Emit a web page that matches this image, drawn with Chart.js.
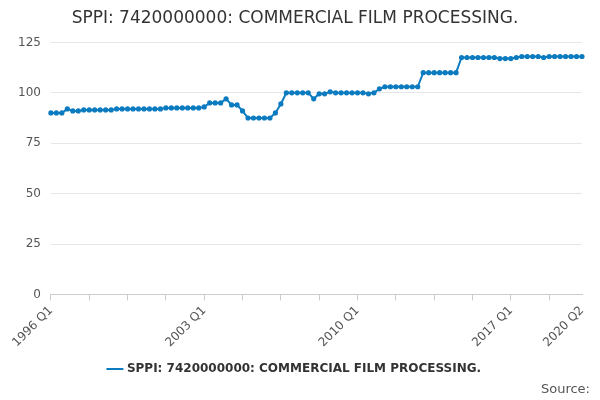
<!DOCTYPE html>
<html>
<head>
<meta charset="utf-8">
<script src="https://cdn.jsdelivr.net/npm/chart.js@4/dist/chart.umd.min.js"></script>
<style>
body { margin: 0; background: #fff; }
#wrap { width: 600px; height: 400px; position: relative; }
#source { position: absolute; right: 10px; bottom: 4px; font: 13px "DejaVu Sans", sans-serif; color: #555; }
</style>
</head>
<body>
<div id="wrap"><canvas id="myChart" width="600" height="400"></canvas><div id="source">Source:</div></div>
<script>
"use strict"

const seriesName = 'SPPI: 7420000000: COMMERCIAL FILM PROCESSING.';
const startYear = 1996;
const values = [
    90, 90, 90, 92, 91, 91, 91.5, 91.5, 91.5, 91.5, 91.5, 91.5, 92, 92,
    92, 92, 92, 92, 92, 92, 92, 92.5, 92.5, 92.5, 92.5, 92.5, 92.5, 92.5,
    93, 95, 95, 95, 97, 94, 94, 91, 87.5, 87.5, 87.5, 87.5, 87.5, 90,
    94.5, 100, 100, 100, 100, 100, 97, 99.5, 99.5, 100.5, 100, 100, 100, 100,
    100, 100, 99.5, 100, 102, 103, 103, 103, 103, 103, 103, 103, 110, 110,
    110, 110, 110, 110, 110, 117.5, 117.5, 117.5, 117.5, 117.5, 117.5, 117.5, 117, 117,
    117, 117.5, 118, 118, 118, 118, 117.5, 118, 118, 118, 118, 118, 118, 118
];
const labels = values.map((v, i) => `${startYear + Math.floor(i / 4)} Q${i % 4 + 1}`);
const yTicks = [0, 25, 50, 75, 100, 125];

Chart.defaults.font.family = 'DejaVu Sans';
Chart.defaults.color = '#555';

new Chart(document.getElementById('myChart'), {
    type: 'line',
    data: {
        labels: labels,
        datasets: [{
            label: seriesName,
            data: values,
            borderColor: '#0c7bc0',
            backgroundColor: '#0c7bc0',
            borderWidth: 2,
            pointRadius: 1.6,
            pointHoverRadius: 3,
            tension: 0,
        }]
    },
    options: {
        responsive: false,
        animation: false,
        layout: { padding: { left: 8, right: 18, bottom: 15 } },
        scales: {
            x: {
                grid: {
                    drawOnChartArea: false,
                    tickLength: 6,
                    tickColor: ctx => (ctx.index % 7 === 0 ? '#ccc' : 'rgba(0,0,0,0)')
                },
                border: { color: '#ccc' },
                ticks: {
                    autoSkip: false,
                    maxRotation: 45,
                    minRotation: 45,
                    font: { size: 12 },
                    callback: function (val) {
                        return (val % 28 === 0 || val === labels.length - 1) ? labels[val] : '';
                    }
                }
            },
            y: {
                min: 0,
                max: 125,
                afterBuildTicks: axis => { axis.ticks = yTicks.map(v => ({ value: v })); },
                grid: { color: '#e6e6e6', drawTicks: false },
                border: { display: false },
                ticks: { padding: 10, font: { size: 12 } }
            }
        },
        plugins: {
            title: {
                display: true,
                text: seriesName,
                color: '#333',
                font: { size: 17, weight: 'normal' },
                padding: { top: 8, bottom: 14 }
            },
            legend: {
                position: 'bottom',
                labels: {
                    usePointStyle: true,
                    pointStyle: 'line',
                    color: '#333',
                    font: { size: 12, weight: 'bold' }
                }
            },
            tooltip: { enabled: false }
        }
    }
});
</script>
</body>
</html>
